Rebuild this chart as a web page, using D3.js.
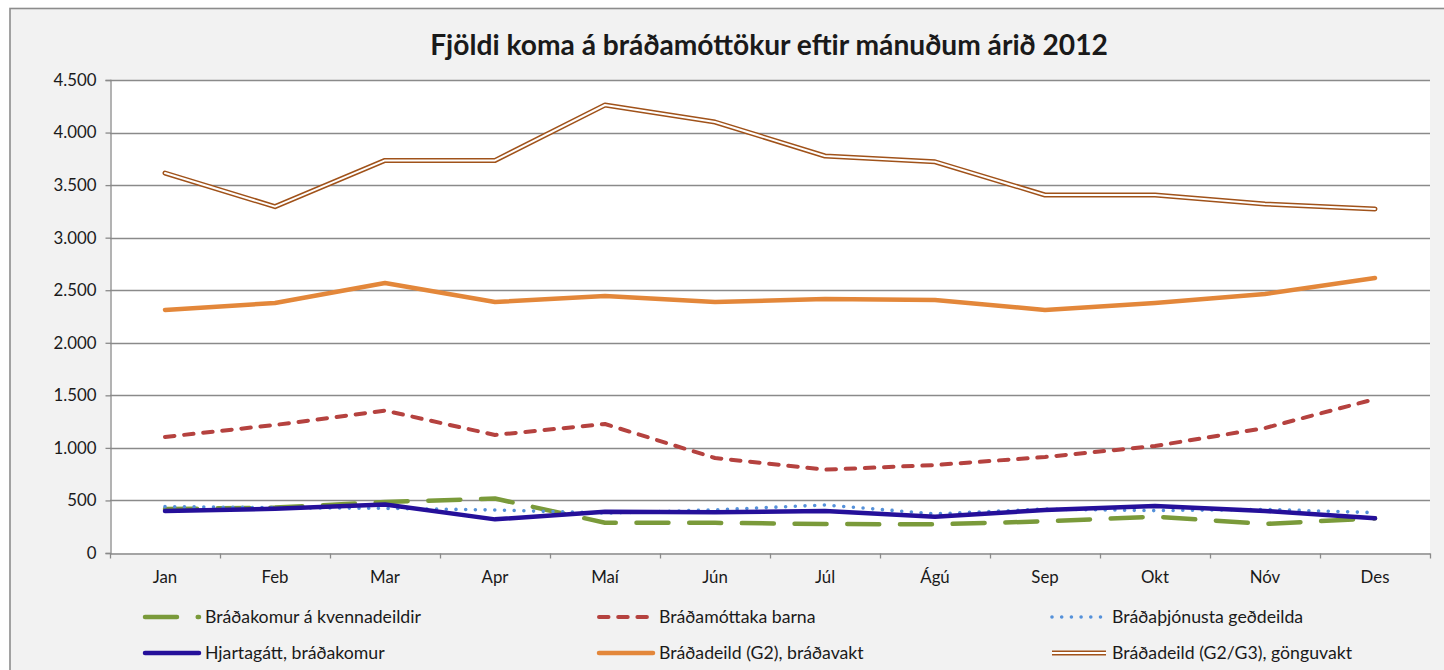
<!DOCTYPE html>
<html>
<head>
<meta charset="utf-8">
<script src="https://cdn.jsdelivr.net/npm/d3@7"></script>
<style>
  html, body { margin: 0; padding: 0; background: #ffffff; }
  svg { display: block; }
  text { font-family: Lato, "Open Sans", sans-serif; fill: #1a1a1a; }
</style>
</head>
<body>
<svg id="chart" width="1444" height="670"></svg>
<script>
const title = "Fjöldi koma á bráðamóttökur eftir mánuðum árið 2012";
const months = ["Jan","Feb","Mar","Apr","Maí","Jún","Júl","Ágú","Sep","Okt","Nóv","Des"];
const yTicks = [0, 500, 1000, 1500, 2000, 2500, 3000, 3500, 4000, 4500];

const seriesNames = [
  "Bráðakomur á kvennadeildir",
  "Bráðamóttaka barna",
  "Bráðaþjónusta geðdeilda",
  "Hjartagátt, bráðakomur",
  "Bráðadeild (G2), bráðavakt",
  "Bráðadeild (G2/G3), gönguvakt"
];
const kvennadeildir = [418, 432, 485, 518, 288, 287, 276, 273, 301, 346, 276, 330];
const barna        = [1104, 1218, 1355, 1123, 1227, 904, 793, 837, 913, 1018, 1189, 1465];
const gedeildir    = [441, 431, 425, 409, 380, 410, 457, 372, 418, 403, 415, 384];
const hjartagatt   = [400, 421, 462, 320, 393, 387, 400, 346, 409, 447, 400, 330];
const bradavakt    = [2312, 2378, 2569, 2388, 2445, 2388, 2417, 2407, 2312, 2378, 2464, 2616];
const gonguvakt    = [3615, 3295, 3735, 3735, 4262, 4100, 3777, 3722, 3406, 3406, 3320, 3273];

const seriesValues = [kvennadeildir, barna, gedeildir, hjartagatt, bradavakt, gonguvakt];

// styles (kept separate from data)
const styles = [
  { color: "#7A9A3A", width: 4.5, dash: "32,20.7", cap: "round" },
  { color: "#B5423F", width: 4,   dash: "9.5,9.7", cap: "round" },
  { color: "#5591DA", width: 3.6, dash: "0,9.7",   cap: "round" },
  { color: "#25109A", width: 4.5, dash: null,      cap: "round" },
  { color: "#E3873A", width: 4.5, dash: null,      cap: "round" },
  { color: "#A0521A", width: 5,   dash: null,      cap: "round", double: true }
];

const svg = d3.select("#chart");
const W = 1444, H = 670;
const plot = { left: 110, right: 1430, top: 80, bottom: 553 };

// chart background and border
svg.append("rect").attr("x", 10).attr("y", 8.5).attr("width", 1460).attr("height", 700)
  .attr("fill", "#F2F2F2").attr("stroke", "#8C8C8C").attr("stroke-width", 1.6);

// plot area
svg.append("rect").attr("x", plot.left).attr("y", plot.top)
  .attr("width", plot.right - plot.left).attr("height", plot.bottom - plot.top)
  .attr("fill", "#ffffff");

const x = d3.scaleBand().domain(months).range([plot.left, plot.right]).padding(0);
const y = d3.scaleLinear().domain([0, 4500]).range([plot.bottom, plot.top]);

const locale = d3.formatLocale({ decimal: ",", thousands: ".", grouping: [3], currency: ["", ""] });
const fmt = locale.format(",");

// font fitting helper
function fitSize(str, weight, target) {
  const t = svg.append("text").attr("font-size", 100).attr("font-weight", weight).text(str);
  const w = t.node().getComputedTextLength();
  t.remove();
  return 100 * target / w;
}

// gridlines
svg.append("g").selectAll("line").data(yTicks.filter(d => d > 0)).join("line")
  .attr("x1", plot.left).attr("x2", plot.right)
  .attr("y1", d => Math.round(y(d)) + 0.5).attr("y2", d => Math.round(y(d)) + 0.5)
  .attr("stroke", "#8A8A8A").attr("stroke-width", 1.3);

// y axis
const axisSize = fitSize("4.500", 400, 43);
const yAxis = svg.append("g").attr("transform", `translate(${plot.left + 0.5},0)`)
  .call(d3.axisLeft(y).tickValues(yTicks).tickFormat(fmt).tickSize(5).tickPadding(9));
yAxis.select(".domain").attr("stroke", "#8A8A8A").attr("stroke-width", 1.3);
yAxis.selectAll(".tick line").attr("stroke", "#8A8A8A").attr("stroke-width", 1.3);
yAxis.selectAll(".tick text").attr("font-size", axisSize).attr("font-family", "Lato").attr("fill", "#1a1a1a");

// x axis
const xAxis = svg.append("g").attr("transform", `translate(0,${plot.bottom + 0.5})`)
  .call(d3.axisBottom(x).tickSize(0).tickPadding(0));
xAxis.select(".domain").attr("stroke", "#8A8A8A").attr("stroke-width", 1.3);
xAxis.selectAll(".tick text").attr("font-size", axisSize).attr("font-family", "Lato")
  .attr("fill", "#1a1a1a").attr("dy", null).attr("y", 29);
// band boundary ticks
const bounds = months.map(m => x(m)).concat([x(months[months.length - 1]) + x.bandwidth()]);
xAxis.append("g").selectAll("line").data(bounds).join("line")
  .attr("x1", d => Math.round(d) + 0.5).attr("x2", d => Math.round(d) + 0.5)
  .attr("y1", 0).attr("y2", 5).attr("stroke", "#8A8A8A").attr("stroke-width", 1.3);

// lines
const line = d3.line().x((d, i) => x(months[i]) + x.bandwidth() / 2).y(d => y(d));
const linesG = svg.append("g");
seriesValues.forEach((vals, k) => {
  const s = styles[k];
  linesG.append("path").attr("d", line(vals)).attr("fill", "none")
    .attr("stroke", s.color).attr("stroke-width", s.width)
    .attr("stroke-linecap", s.cap).attr("stroke-linejoin", "round")
    .attr("stroke-dasharray", s.dash);
  if (s.double) {
    linesG.append("path").attr("d", line(vals)).attr("fill", "none")
      .attr("stroke", "#ffffff").attr("stroke-width", 2)
      .attr("stroke-linecap", "round").attr("stroke-linejoin", "round");
  }
});

// title
const titleSize = fitSize(title, 700, 678);
svg.append("text").attr("x", 769).attr("y", 55).attr("text-anchor", "middle")
  .attr("font-size", titleSize).attr("font-weight", 700).attr("fill", "#000").text(title);

// legend
const legSize = fitSize(seriesNames[0], 400, 216);
const legCols = [143, 597, 1050];
const legRows = [617, 653];
const legend = svg.append("g");
seriesNames.forEach((name, k) => {
  const s = styles[k];
  const lx = legCols[k % 3], ly = legRows[Math.floor(k / 3)];
  legend.append("line").attr("x1", lx + 2).attr("x2", lx + 56).attr("y1", ly).attr("y2", ly)
    .attr("stroke", s.color).attr("stroke-width", s.width)
    .attr("stroke-linecap", s.double ? "butt" : s.cap).attr("stroke-dasharray", s.dash);
  if (s.double) {
    legend.append("line").attr("x1", lx + 2).attr("x2", lx + 56).attr("y1", ly).attr("y2", ly)
      .attr("stroke", "#ffffff").attr("stroke-width", 2);
  }
  legend.append("text").attr("x", lx + 62).attr("y", ly).attr("dy", "0.35em")
    .attr("font-size", legSize).text(name);
});
</script>
</body>
</html>
